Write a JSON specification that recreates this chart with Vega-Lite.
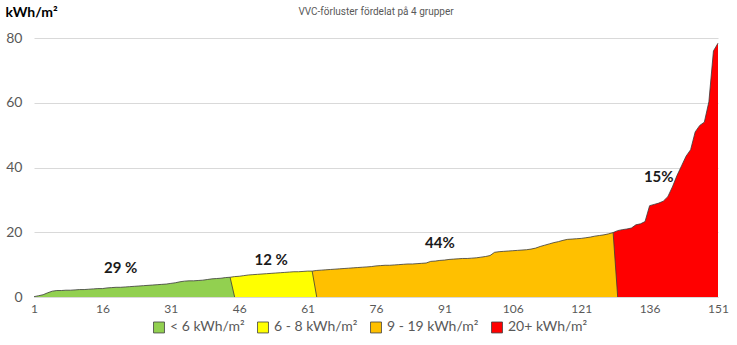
{
  "$schema": "https://vega.github.io/schema/vega-lite/v6.json",
  "autosize": "none",
  "width": 684,
  "height": 259,
  "padding": {"left": 34, "top": 38, "right": 19, "bottom": 48},
  "background": "white",
  "config": {"view": {"stroke": null}, "font": "Lato"},
  "title": {"text": "VVC-förluster fördelat på 4 grupper", "fontSize": 10, "font": "Roboto", "fontWeight": "normal", "color": "#595959", "offset": 0, "dy": 22, "anchor": "middle", "frame": "group", "baseline": "bottom"},
  "datasets": {
    "pts": [
      {"n":1,"v":0.1,"g":"< 6 kWh/m²"},{"n":2,"v":0.4,"g":"< 6 kWh/m²"},{"n":3,"v":0.7,"g":"< 6 kWh/m²"},{"n":4,"v":1.3,"g":"< 6 kWh/m²"},{"n":5,"v":1.8,"g":"< 6 kWh/m²"},{"n":6,"v":2.0,"g":"< 6 kWh/m²"},{"n":7,"v":2.0,"g":"< 6 kWh/m²"},{"n":8,"v":2.1,"g":"< 6 kWh/m²"},{"n":9,"v":2.1,"g":"< 6 kWh/m²"},{"n":10,"v":2.2,"g":"< 6 kWh/m²"},
      {"n":11,"v":2.3,"g":"< 6 kWh/m²"},{"n":12,"v":2.3,"g":"< 6 kWh/m²"},{"n":13,"v":2.4,"g":"< 6 kWh/m²"},{"n":14,"v":2.5,"g":"< 6 kWh/m²"},{"n":15,"v":2.6,"g":"< 6 kWh/m²"},{"n":16,"v":2.6,"g":"< 6 kWh/m²"},{"n":17,"v":2.8,"g":"< 6 kWh/m²"},{"n":18,"v":2.9,"g":"< 6 kWh/m²"},{"n":19,"v":3.0,"g":"< 6 kWh/m²"},{"n":20,"v":3.0,"g":"< 6 kWh/m²"},
      {"n":21,"v":3.1,"g":"< 6 kWh/m²"},{"n":22,"v":3.2,"g":"< 6 kWh/m²"},{"n":23,"v":3.3,"g":"< 6 kWh/m²"},{"n":24,"v":3.4,"g":"< 6 kWh/m²"},{"n":25,"v":3.5,"g":"< 6 kWh/m²"},{"n":26,"v":3.6,"g":"< 6 kWh/m²"},{"n":27,"v":3.7,"g":"< 6 kWh/m²"},{"n":28,"v":3.8,"g":"< 6 kWh/m²"},{"n":29,"v":3.9,"g":"< 6 kWh/m²"},{"n":30,"v":4.0,"g":"< 6 kWh/m²"},
      {"n":31,"v":4.2,"g":"< 6 kWh/m²"},{"n":32,"v":4.4,"g":"< 6 kWh/m²"},{"n":33,"v":4.7,"g":"< 6 kWh/m²"},{"n":34,"v":4.9,"g":"< 6 kWh/m²"},{"n":35,"v":5.0,"g":"< 6 kWh/m²"},{"n":36,"v":5.0,"g":"< 6 kWh/m²"},{"n":37,"v":5.1,"g":"< 6 kWh/m²"},{"n":38,"v":5.2,"g":"< 6 kWh/m²"},{"n":39,"v":5.4,"g":"< 6 kWh/m²"},{"n":40,"v":5.6,"g":"< 6 kWh/m²"},
      {"n":41,"v":5.7,"g":"< 6 kWh/m²"},{"n":42,"v":5.8,"g":"< 6 kWh/m²"},{"n":43,"v":6.0,"g":"< 6 kWh/m²"},{"n":44,"v":6.1,"g":"< 6 kWh/m²"},{"n":45,"v":0,"g":"< 6 kWh/m²"},
      {"n":44,"v":6.1,"g":"6 - 8 kWh/m²"},{"n":45,"v":6.3,"g":"6 - 8 kWh/m²"},{"n":46,"v":6.4,"g":"6 - 8 kWh/m²"},{"n":47,"v":6.6,"g":"6 - 8 kWh/m²"},{"n":48,"v":6.8,"g":"6 - 8 kWh/m²"},{"n":49,"v":6.9,"g":"6 - 8 kWh/m²"},{"n":50,"v":7.0,"g":"6 - 8 kWh/m²"},
      {"n":51,"v":7.1,"g":"6 - 8 kWh/m²"},{"n":52,"v":7.2,"g":"6 - 8 kWh/m²"},{"n":53,"v":7.3,"g":"6 - 8 kWh/m²"},{"n":54,"v":7.4,"g":"6 - 8 kWh/m²"},{"n":55,"v":7.5,"g":"6 - 8 kWh/m²"},{"n":56,"v":7.6,"g":"6 - 8 kWh/m²"},{"n":57,"v":7.7,"g":"6 - 8 kWh/m²"},{"n":58,"v":7.8,"g":"6 - 8 kWh/m²"},{"n":59,"v":7.8,"g":"6 - 8 kWh/m²"},{"n":60,"v":7.9,"g":"6 - 8 kWh/m²"},
      {"n":61,"v":8.0,"g":"6 - 8 kWh/m²"},{"n":62,"v":8.0,"g":"6 - 8 kWh/m²"},{"n":63,"v":0,"g":"6 - 8 kWh/m²"},
      {"n":62,"v":8.0,"g":"9 - 19 kWh/m²"},{"n":63,"v":8.2,"g":"9 - 19 kWh/m²"},{"n":64,"v":8.3,"g":"9 - 19 kWh/m²"},{"n":65,"v":8.4,"g":"9 - 19 kWh/m²"},{"n":66,"v":8.5,"g":"9 - 19 kWh/m²"},{"n":67,"v":8.6,"g":"9 - 19 kWh/m²"},{"n":68,"v":8.7,"g":"9 - 19 kWh/m²"},{"n":69,"v":8.8,"g":"9 - 19 kWh/m²"},{"n":70,"v":8.9,"g":"9 - 19 kWh/m²"},
      {"n":71,"v":9.0,"g":"9 - 19 kWh/m²"},{"n":72,"v":9.1,"g":"9 - 19 kWh/m²"},{"n":73,"v":9.2,"g":"9 - 19 kWh/m²"},{"n":74,"v":9.3,"g":"9 - 19 kWh/m²"},{"n":75,"v":9.4,"g":"9 - 19 kWh/m²"},{"n":76,"v":9.6,"g":"9 - 19 kWh/m²"},{"n":77,"v":9.7,"g":"9 - 19 kWh/m²"},{"n":78,"v":9.8,"g":"9 - 19 kWh/m²"},{"n":79,"v":9.8,"g":"9 - 19 kWh/m²"},{"n":80,"v":9.9,"g":"9 - 19 kWh/m²"},
      {"n":81,"v":10.0,"g":"9 - 19 kWh/m²"},{"n":82,"v":10.1,"g":"9 - 19 kWh/m²"},{"n":83,"v":10.2,"g":"9 - 19 kWh/m²"},{"n":84,"v":10.2,"g":"9 - 19 kWh/m²"},{"n":85,"v":10.3,"g":"9 - 19 kWh/m²"},{"n":86,"v":10.4,"g":"9 - 19 kWh/m²"},{"n":87,"v":10.5,"g":"9 - 19 kWh/m²"},{"n":88,"v":11.0,"g":"9 - 19 kWh/m²"},{"n":89,"v":11.1,"g":"9 - 19 kWh/m²"},{"n":90,"v":11.3,"g":"9 - 19 kWh/m²"},
      {"n":91,"v":11.4,"g":"9 - 19 kWh/m²"},{"n":92,"v":11.6,"g":"9 - 19 kWh/m²"},{"n":93,"v":11.7,"g":"9 - 19 kWh/m²"},{"n":94,"v":11.8,"g":"9 - 19 kWh/m²"},{"n":95,"v":11.9,"g":"9 - 19 kWh/m²"},{"n":96,"v":11.9,"g":"9 - 19 kWh/m²"},{"n":97,"v":12.0,"g":"9 - 19 kWh/m²"},{"n":98,"v":12.1,"g":"9 - 19 kWh/m²"},{"n":99,"v":12.3,"g":"9 - 19 kWh/m²"},{"n":100,"v":12.5,"g":"9 - 19 kWh/m²"},
      {"n":101,"v":12.8,"g":"9 - 19 kWh/m²"},{"n":102,"v":13.8,"g":"9 - 19 kWh/m²"},{"n":103,"v":14.0,"g":"9 - 19 kWh/m²"},{"n":104,"v":14.1,"g":"9 - 19 kWh/m²"},{"n":105,"v":14.2,"g":"9 - 19 kWh/m²"},{"n":106,"v":14.3,"g":"9 - 19 kWh/m²"},{"n":107,"v":14.4,"g":"9 - 19 kWh/m²"},{"n":108,"v":14.5,"g":"9 - 19 kWh/m²"},{"n":109,"v":14.6,"g":"9 - 19 kWh/m²"},{"n":110,"v":14.8,"g":"9 - 19 kWh/m²"},
      {"n":111,"v":15.1,"g":"9 - 19 kWh/m²"},{"n":112,"v":15.6,"g":"9 - 19 kWh/m²"},{"n":113,"v":16.0,"g":"9 - 19 kWh/m²"},{"n":114,"v":16.4,"g":"9 - 19 kWh/m²"},{"n":115,"v":16.8,"g":"9 - 19 kWh/m²"},{"n":116,"v":17.1,"g":"9 - 19 kWh/m²"},{"n":117,"v":17.5,"g":"9 - 19 kWh/m²"},{"n":118,"v":17.8,"g":"9 - 19 kWh/m²"},{"n":119,"v":17.9,"g":"9 - 19 kWh/m²"},{"n":120,"v":18.0,"g":"9 - 19 kWh/m²"},
      {"n":121,"v":18.1,"g":"9 - 19 kWh/m²"},{"n":122,"v":18.3,"g":"9 - 19 kWh/m²"},{"n":123,"v":18.5,"g":"9 - 19 kWh/m²"},{"n":124,"v":18.8,"g":"9 - 19 kWh/m²"},{"n":125,"v":19.0,"g":"9 - 19 kWh/m²"},{"n":126,"v":19.2,"g":"9 - 19 kWh/m²"},{"n":127,"v":19.5,"g":"9 - 19 kWh/m²"},{"n":128,"v":19.9,"g":"9 - 19 kWh/m²"},{"n":129,"v":0,"g":"9 - 19 kWh/m²"},
      {"n":128,"v":19.9,"g":"20+ kWh/m²"},{"n":129,"v":20.5,"g":"20+ kWh/m²"},{"n":130,"v":20.8,"g":"20+ kWh/m²"},{"n":131,"v":21.0,"g":"20+ kWh/m²"},{"n":132,"v":21.3,"g":"20+ kWh/m²"},{"n":133,"v":22.3,"g":"20+ kWh/m²"},{"n":134,"v":22.6,"g":"20+ kWh/m²"},{"n":135,"v":23.3,"g":"20+ kWh/m²"},{"n":136,"v":28.2,"g":"20+ kWh/m²"},{"n":137,"v":28.6,"g":"20+ kWh/m²"},
      {"n":138,"v":29.0,"g":"20+ kWh/m²"},{"n":139,"v":29.6,"g":"20+ kWh/m²"},{"n":140,"v":31.0,"g":"20+ kWh/m²"},{"n":141,"v":34.0,"g":"20+ kWh/m²"},{"n":142,"v":37.5,"g":"20+ kWh/m²"},{"n":143,"v":40.5,"g":"20+ kWh/m²"},{"n":144,"v":43.5,"g":"20+ kWh/m²"},{"n":145,"v":45.5,"g":"20+ kWh/m²"},{"n":146,"v":51.0,"g":"20+ kWh/m²"},{"n":147,"v":53.0,"g":"20+ kWh/m²"},
      {"n":148,"v":54.0,"g":"20+ kWh/m²"},{"n":149,"v":60.3,"g":"20+ kWh/m²"},{"n":150,"v":76.0,"g":"20+ kWh/m²"},{"n":151,"v":78.4,"g":"20+ kWh/m²"}
    ],
    "labels": [
      {"n":20,"v":9.0,"t":"29 %"},
      {"n":53,"v":11.4,"t":"12 %"},
      {"n":90,"v":16.7,"t":"44%"},
      {"n":138,"v":37,"t":"15%"}
    ]
  },
  "data": {"name": "pts"},
  "encoding": {
    "x": {"field": "n", "type": "quantitative", "title": null,
      "scale": {"domain": [1, 151], "nice": false, "zero": false},
      "axis": {"values": [1,16,31,46,61,76,91,106,121,136,151], "grid": false, "ticks": false, "domainColor": "#d9d9d9", "labelFontSize": 12, "labelColor": "#595959", "labelPadding": 6, "labelFont": "Lato", "labelFlush": false}},
    "y": {"field": "v", "type": "quantitative", "title": "kWh/m²",
      "scale": {"domain": [0, 80], "nice": false},
      "axis": {"values": [0,20,40,60,80], "gridColor": "#d9d9d9", "domain": false, "ticks": false, "labelFontSize": 14, "labelColor": "#595959", "labelPadding": 12, "labelFont": "Lato",
        "titleAngle": 0, "titleAlign": "left", "titleBaseline": "top", "titleX": -29, "titleY": -33, "titleFontSize": 14, "titleFont": "Lato", "titleFontWeight": "bold", "titleColor": "#000000"}}
  },
  "layer": [
    {"transform": [{"filter": "datum.g == '20+ kWh/m²'"}], "mark": {"type": "area"},
     "encoding": {"color": {"field": "g", "type": "nominal", "scale": {"domain": ["< 6 kWh/m²", "6 - 8 kWh/m²", "9 - 19 kWh/m²", "20+ kWh/m²"], "range": ["#92D050", "#FFFF00", "#FFC000", "#FF0000"]},
       "legend": {"title": null, "orient": "none", "legendX": 118, "legendY": 282, "direction": "horizontal", "symbolType": "square", "symbolSize": 120, "symbolStrokeColor": "#404040", "symbolStrokeWidth": 0.8, "symbolOpacity": 1, "labelFontSize": 14, "labelColor": "#595959", "labelFont": "Lato", "columnPadding": 10, "labelOffset": 4}}}},
    {"transform": [{"filter": "datum.g == '9 - 19 kWh/m²'"}], "mark": {"type": "area"}, "encoding": {"color": {"field": "g", "type": "nominal"}}},
    {"transform": [{"filter": "datum.g == '6 - 8 kWh/m²'"}], "mark": {"type": "area"}, "encoding": {"color": {"field": "g", "type": "nominal"}}},
    {"transform": [{"filter": "datum.g == '< 6 kWh/m²'"}], "mark": {"type": "area"}, "encoding": {"color": {"field": "g", "type": "nominal"}}},
    {"mark": {"type": "line", "stroke": "#3a3a3a", "strokeWidth": 0.8}, "encoding": {"detail": {"field": "g"}}},
    {"data": {"name": "labels"}, "mark": {"type": "text", "fontSize": 15, "fontWeight": "bold", "font": "Lato", "color": "#1a1a1a"},
     "encoding": {"text": {"field": "t"}}}
  ]
}
